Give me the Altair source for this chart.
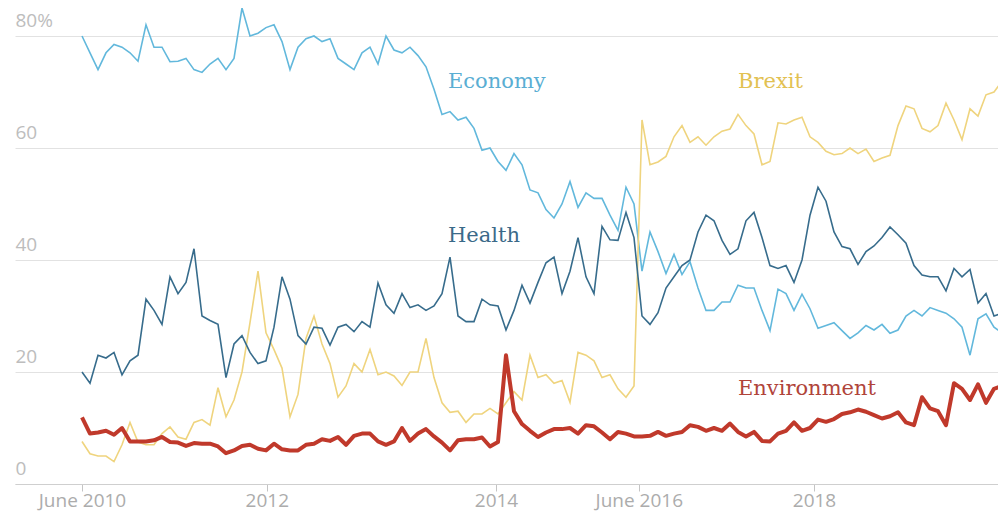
import altair as alt
import pandas as pd

# survey index (roughly monthly), June 2010 -> end of 2019
months = list(range(116))

economy = [
    80, 77, 74, 77, 78.5, 78, 77, 75.5, 82, 78,
    78, 75.4, 75.5, 76, 74, 73.5, 75, 76, 74, 76,
    85, 80, 80.5, 81.5, 82, 79, 74, 78, 79.5, 80,
    79, 79.5, 76, 75, 74, 77, 78, 75, 80, 77.5,
    77, 78, 76.5, 74.5, 70.5, 66, 66.5, 65, 65.5, 63.5,
    59.6, 60, 57.6, 56, 59, 57, 52.5, 52, 49, 47.5,
    50, 54, 49.4, 52, 51, 51, 48, 45.3, 53, 50,
    38, 45, 41.5, 37.6, 41, 37.4, 39.7, 35, 31, 31,
    32.5, 32.5, 35.5, 35, 35, 31, 27.4, 34.8, 34, 31,
    33.9, 31.3, 27.8, 28.3, 28.8, 27.4, 26, 27, 28.3, 27.5,
    28.5, 26.9, 27.5, 30, 31, 30, 31.5, 31, 30.5, 29.5,
    28, 23, 29.5, 30.4, 28, 27,
]

health = [
    20, 18, 23, 22.5, 23.5, 19.5, 22, 23, 33, 31,
    28.5, 37, 34, 36, 42, 30, 29.2, 28.5, 19, 25,
    26.5, 23.5, 21.5, 22, 28, 37, 33, 26.5, 25, 28,
    27.8, 24.8, 28, 28.5, 27.2, 29, 28, 35.9, 32, 30.5,
    34, 31.5, 32, 31, 31.8, 34, 40.5, 30, 29, 29,
    33, 32, 31.8, 27.5, 31, 35.5, 32.3, 36, 39.5, 40.5,
    34, 38, 44, 37, 34, 46, 43.6, 43.5, 48.5, 44,
    30, 28.5, 30.6, 35, 37, 39, 40, 45, 48, 47,
    43.5, 41, 42, 47, 48.5, 44, 39, 38.5, 39, 36,
    40, 48, 53, 50.5, 45, 42.4, 42, 39.2, 41.5, 42.5,
    44, 45.9, 44.5, 43, 39, 37.3, 37, 37, 34.5, 38.5,
    37, 38.3, 32.3, 34, 30, 30.5,
]

brexit = [
    7.6, 5.4, 5, 5, 4, 7, 11, 7.5, 7, 7,
    9, 10.2, 8.4, 8, 11, 11.5, 10.5, 17.2, 12, 15,
    20, 28.8, 38, 27, 24, 20.7, 12, 16, 26, 30,
    25, 21.5, 15.5, 17.5, 21.5, 20, 24, 19.5, 20, 19.3,
    17.6, 20, 20, 26, 19, 14.5, 12.8, 13, 11, 12.5,
    12.5, 13.5, 12.5, 14.5, 16.5, 15, 23, 19, 19.5, 18,
    18.5, 14.6, 23.5, 23, 22, 19, 19.5, 17, 15.5, 17.5,
    65, 57, 57.5, 58.5, 62, 64, 61, 62, 60.5, 62,
    63, 63.4, 66, 64, 62.5, 57, 57.6, 64.5, 64.3, 65,
    65.5, 62, 61, 59.4, 58.8, 59, 60, 59, 59.8, 57.6,
    58.2, 58.7, 64, 67.5, 67, 63.5, 62.9, 64, 68, 65,
    61.5, 67, 65.7, 69.5, 70, 71.9,
]

environment = [
    11.9, 9, 9.2, 9.5, 8.8, 10, 7.6, 7.6, 7.6, 7.8,
    8.4, 7.5, 7.4, 6.8, 7.3, 7.2, 7.2, 6.7, 5.5, 6,
    6.8, 7, 6.3, 6, 7.2, 6.2, 6, 6, 7, 7.2,
    8, 7.7, 8.4, 7, 8.6, 9, 9, 7.6, 7, 7.6,
    10, 7.7, 9, 9.8, 8.5, 7.4, 6, 7.8, 8, 8,
    8.3, 6.7, 7.5, 23, 13, 10.7, 9.5, 8.4, 9.2, 9.8,
    9.8, 10, 9, 10.5, 10.3, 9.2, 8, 9.3, 9, 8.5,
    8.5, 8.6, 9.3, 8.6, 9, 9.3, 10.5, 10.2, 9.5, 10,
    9.5, 10.8, 9.3, 8.5, 9.3, 7.7, 7.6, 9, 9.5, 11,
    9.5, 10, 11.5, 11.1, 11.6, 12.5, 12.8, 13.3, 12.9, 12.3,
    11.7, 12.1, 12.8, 11, 10.5, 15.5, 13.5, 13, 10.5, 18,
    17, 15, 17.8, 14.5, 17, 17.5,
]

series_names = ["Economy", "Brexit", "Health", "Environment"]
series_colors = ["#62b8dc", "#efd47e", "#376c8c", "#c0392b"]
label_colors = ["#5aaed3", "#e2c152", "#3b6a89", "#b0443a"]
label_x = [45.75, 82, 45.75, 82]
label_y = [71.8, 71.8, 44.2, 16.9]

tick_values = [0, 23.1, 51.75, 69.6, 91.5]
tick_labels = ["June 2010", "2012", "2014", "June 2016", "2018"]
y_ticks = [0, 20, 40, 60, 80]

rows = []
for name, vals in zip(series_names, [economy, brexit, health, environment]):
    for m, v in zip(months, vals):
        rows.append({"series": name, "m": m, "v": v})
df = pd.DataFrame(rows)

labels_df = pd.DataFrame({"name": series_names, "lx": label_x, "ly": label_y, "col": label_colors})

x_scale = alt.Scale(domain=[-8.375, 114.5], nice=False, zero=False)
y_scale = alt.Scale(domain=[0, 85], nice=False)

label_expr = " : ".join(f"datum.value == {v} ? '{l}'" for v, l in zip(tick_values, tick_labels)) + " : ''"

x_enc = alt.X(
    "m:Q", scale=x_scale, title=None,
    axis=alt.Axis(values=tick_values, labelExpr=label_expr, grid=False, domain=True,
                  domainColor="#cfcfcf", domainWidth=1.2, tickColor="#c4c4c4", tickSize=7,
                  labelColor="#acacac", labelFont="Open Sans", labelFontSize=19,
                  labelPadding=0, labelFlush=False, labelOverlap=False),
)
y_enc = alt.Y(
    "v:Q", scale=y_scale, title=None,
    axis=alt.Axis(values=y_ticks, labelExpr="datum.value == 80 ? '80%' : datum.label",
                  grid=True, gridColor="#e2e2e2", domain=False, ticks=False, tickSize=0,
                  labelAlign="left", labelBaseline="alphabetic", labelOffset=-10,
                  labelPadding=0, labelColor="#bdbdbd", labelFont="Open Sans",
                  labelFontSize=19),
)

color_scale = alt.Scale(domain=series_names, range=series_colors)

thin = alt.Chart(df).transform_filter(
    alt.datum.series != "Environment"
).mark_line(strokeWidth=1.6, clip=True).encode(
    x=x_enc, y=y_enc,
    color=alt.Color("series:N", scale=color_scale, legend=None),
    detail="series:N",
)

thick = alt.Chart(df).transform_filter(
    alt.datum.series == "Environment"
).mark_line(strokeWidth=4, clip=True, strokeJoin="round").encode(
    x=alt.X("m:Q", scale=x_scale),
    y=alt.Y("v:Q", scale=y_scale),
    color=alt.Color("series:N", scale=color_scale, legend=None),
)

texts = alt.Chart(labels_df).mark_text(
    align="left", baseline="middle", font="DejaVu Serif", fontSize=21
).encode(
    x=alt.X("lx:Q", scale=x_scale),
    y=alt.Y("ly:Q", scale=y_scale),
    text="name:N",
    color=alt.Color("col:N", scale=None),
)

chart = alt.layer(thin, thick, texts).resolve_scale(color="independent").properties(
    width=983, height=476,
    padding={"left": 7, "top": 0, "right": 0, "bottom": 27},
    autosize=alt.AutoSizeParams(type="none"),
).configure_view(stroke=None)

chart.save("out.html", embed_options={"renderer": "svg", "actions": False})
